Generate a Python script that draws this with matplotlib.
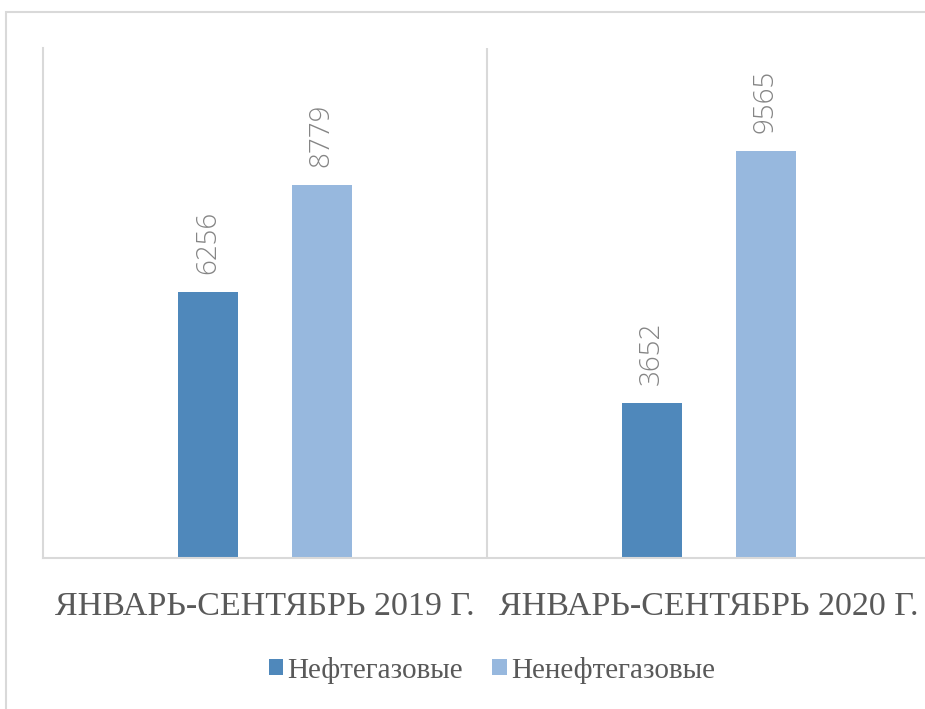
import numpy as np
import matplotlib.pyplot as plt
from matplotlib.patches import Rectangle

categories = ["ЯНВАРЬ-СЕНТЯБРЬ 2019 Г.", "ЯНВАРЬ-СЕНТЯБРЬ 2020 Г."]
series_names = ["Нефтегазовые", "Ненефтегазовые"]
oil_gas = [6256, 3652]
non_oil_gas = [8779, 9565]
colors = ["#4f88bb", "#97b8de"]

fig = plt.figure(figsize=(9.25, 7.09), dpi=100)
W, H = 925, 709

# outer chart frame
fig.patches.append(Rectangle((6 / W, -0.05), 1.1, 1 - 12 / H + 0.05,
                             transform=fig.transFigure, fill=False,
                             edgecolor="#d9d9d9", linewidth=1.5))

ax = fig.add_axes([43 / W, 1 - 558 / H, 888 / W, 510 / H])
x = np.arange(len(categories))
width = 0.135
off = 0.128
b1 = ax.bar(x - off, oil_gas, width, color=colors[0], label=series_names[0])
b2 = ax.bar(x + off, non_oil_gas, width, color=colors[1], label=series_names[1])

for bars in (b1, b2):
    for r in bars:
        ax.annotate(str(int(r.get_height())), (r.get_x() + r.get_width() / 2, r.get_height()),
                    xytext=(0, 13), textcoords="offset points", rotation=90,
                    ha="center", va="bottom", fontsize=20, color="#858585",
                    family="Open Sans", fontweight="light")

ax.set_xlim(-0.5, 1.5)
ax.set_ylim(0, 12000)
ax.set_yticks([])
ax.set_xticks(x)
ax.set_xticklabels(categories, family="Liberation Serif", fontsize=24.5, color="#595959")
ax.tick_params(axis="x", length=0, pad=24)
for s in ["top", "right"]:
    ax.spines[s].set_visible(False)
for s in ["left", "bottom"]:
    ax.spines[s].set_color("#d9d9d9")
    ax.spines[s].set_linewidth(1.5)
ax.axvline(0.5, color="#d9d9d9", linewidth=1.5)

leg = fig.legend(handles=[b1, b2], loc="center", bbox_to_anchor=(492 / W, 1 - 670 / H),
                 ncol=2, frameon=False, prop={"family": "Liberation Serif", "size": 21},
                 handlelength=0.5, handleheight=0.5, handletextpad=0.15, columnspacing=1.0,
                 labelcolor="#595959")

fig.savefig("out.png", dpi=100)
